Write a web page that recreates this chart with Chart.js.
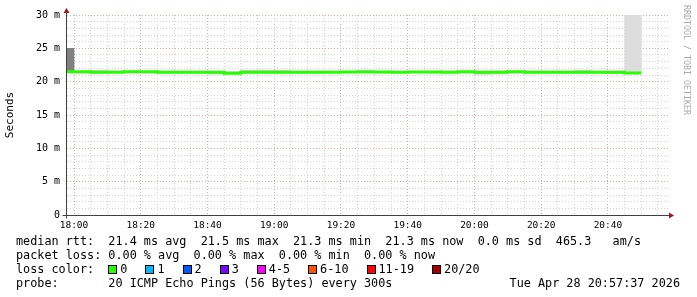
<!DOCTYPE html>
<html>
<head>
<meta charset="utf-8">
<script src="https://cdn.jsdelivr.net/npm/chart.js@4.4.1/dist/chart.umd.min.js"></script>
<style>
html, body { margin: 0; padding: 0; background: #fff; }
#wrap { position: relative; width: 697px; height: 297px; overflow: hidden; }
#wrap canvas { position: absolute; left: 0; top: 0; }
.leg { position: absolute; left: 16px; font: 11.8px "DejaVu Sans Mono", monospace; color: #000; white-space: pre; line-height: 14px; height: 14px; }
.item { display: inline-block; margin-right: 18px; }
.sq { display: inline-block; width: 9px; height: 9px; box-sizing: border-box; border: 1px solid #000; margin-right: 3px; vertical-align: -1px; }
#stamp { position: absolute; right: 17px; top: 276px; font: 11.8px "DejaVu Sans Mono", monospace; line-height: 14px; white-space: pre; }
#credit { position: absolute; left: 682px; top: 5px; writing-mode: vertical-rl; font: 8.3px "DejaVu Sans Mono", monospace; line-height: 10px; color: #aaa; white-space: pre; }
</style>
</head>
<body>
<div id="wrap">
  <canvas id="smoke" width="697" height="297"></canvas>
  <div class="leg" id="l1" style="top:234px"></div>
  <div class="leg" id="l2" style="top:248px"></div>
  <div class="leg" id="l3" style="top:262px"></div>
  <div class="leg" id="l4" style="top:276px"></div>
  <div id="stamp"></div>
  <div id="credit">RRDTOOL / TOBI OETIKER</div>
</div>
<script>
// minutes after 18:00 at which each 300s step ends
var stepEnd = [0, 5, 10, 15, 20, 25, 30, 35, 40, 45, 50, 55, 60, 65, 70, 75, 80, 85,
	90, 95, 100, 105, 110, 115, 120, 125, 130, 135, 140, 145, 150, 155, 160, 165, 170];
// median rtt in ms
var median = [21.5, 21.4, 21.4, 21.5, 21.5, 21.4, 21.4, 21.4, 21.4, 21.25, 21.4, 21.4,
	21.4, 21.4, 21.4, 21.4, 21.45, 21.45, 21.45, 21.4, 21.45, 21.45, 21.4, 21.5, 21.4,
	21.4, 21.5, 21.4, 21.4, 21.4, 21.4, 21.4, 21.4, 21.3, 21.3];
// smoke (spread of the 20 pings) in ms
var smokeLow = [21.5, 21.3, 21.3, 21.4, 21.4, 21.3, 21.3, 21.3, 21.3, 21.15, 21.3, 21.3,
	21.3, 21.3, 21.3, 21.3, 21.35, 21.35, 21.35, 21.3, 21.35, 21.35, 21.3, 21.4, 21.3,
	21.1, 21.2, 21.3, 21.3, 21.3, 21.3, 21.3, 21.3, 21.2, 21.3];
var smokeHigh = [25.0, 21.5, 21.7, 21.6, 21.6, 21.5, 21.5, 21.5, 21.5, 21.35, 21.5, 21.7,
	21.7, 21.7, 21.5, 21.5, 21.55, 21.55, 21.75, 21.5, 21.55, 21.55, 21.5, 21.6, 21.5,
	21.5, 21.6, 21.5, 21.5, 21.5, 21.5, 21.7, 21.5, 21.4, 30.0];
var yTicks = [0, 5, 10, 15, 20, 25, 30];
var xTicks = ['18:00', '18:20', '18:40', '19:00', '19:20', '19:40', '20:00', '20:20', '20:40'];

var lossLabels = ['0', '1', '2', '3', '4-5', '6-10', '11-19', '20/20'];
var lossColors = ['#26ff00', '#00b8ff', '#0059ff', '#7e00ff', '#ff00ff', '#ff5500', '#ff0000', '#a10000'];

var legendRtt = 'median rtt:  21.4 ms avg  21.5 ms max  21.3 ms min  21.3 ms now  0.0 ms sd  465.3   am/s';
var legendLoss = 'packet loss: 0.00 % avg  0.00 % max  0.00 % min  0.00 % now';
var legendProbe = 'probe:       20 ICMP Echo Pings (56 Bytes) every 300s';
var stampText = 'Tue Apr 28 20:57:37 2026';

// legend text
document.getElementById('l1').textContent = legendRtt;
document.getElementById('l2').textContent = legendLoss;
document.getElementById('l4').textContent = legendProbe;
document.getElementById('stamp').textContent = stampText;
var l3 = document.getElementById('l3');
l3.textContent = 'loss color:  ';
for (var i = 0; i < lossLabels.length; i++) {
	var item = document.createElement('span');
	item.className = 'item';
	var sq = document.createElement('span');
	sq.className = 'sq';
	sq.style.background = lossColors[i];
	item.appendChild(sq);
	item.appendChild(document.createTextNode(lossLabels[i]));
	l3.appendChild(item);
}

function hhmm(m) {
	var t = 18 * 60 + m;
	var h = Math.floor(t / 60), mm = t % 60;
	return h + ':' + (mm < 10 ? '0' : '') + mm;
}

var smokeData = [], smokeCol = [], lineData = [{ x: stepEnd[0] - 5, y: median[0] }];
for (var i = 0; i < stepEnd.length; i++) {
	smokeData.push({ x: stepEnd[i] - 2.5, y: [smokeLow[i], smokeHigh[i]] });
	smokeCol.push(i == 0 ? '#808080' : (i == stepEnd.length - 1 ? '#dddddd' : '#cccccc'));
	lineData.push({ x: stepEnd[i], y: median[i] });
}

var minorGrid = '#d4d4d4';
var majorGrid = '#e8a8a8';

var axisArrows = {
	id: 'axisArrows',
	afterDraw: function (chart) {
		var ctx = chart.ctx, a = chart.chartArea;
		var x0 = Math.round(a.left) - 0.5, y0 = Math.round(a.bottom) + 0.5;
		ctx.save();
		ctx.strokeStyle = '#404040';
		ctx.lineWidth = 1;
		ctx.beginPath();
		ctx.moveTo(x0, a.top - 3);
		ctx.lineTo(x0, y0 + 3);
		ctx.moveTo(x0 - 4, y0);
		ctx.lineTo(a.right + 1, y0);
		ctx.stroke();
		ctx.fillStyle = '#a01818';
		ctx.beginPath();
		ctx.moveTo(x0, a.top - 7);
		ctx.lineTo(x0 - 3, a.top - 2);
		ctx.lineTo(x0 + 3, a.top - 2);
		ctx.closePath();
		ctx.fill();
		ctx.beginPath();
		ctx.moveTo(a.right + 6, y0);
		ctx.lineTo(a.right + 1, y0 - 3);
		ctx.lineTo(a.right + 1, y0 + 3);
		ctx.closePath();
		ctx.fill();
		ctx.restore();
	}
};

var ctx = document.getElementById('smoke').getContext('2d');
var chart = new Chart(ctx, {
	data: {
		datasets: [{
			type: 'line',
			label: 'median',
			data: lineData,
			borderColor: lossColors[0],
			borderWidth: 3,
			pointRadius: 0,
			stepped: 'before',
			fill: false,
			order: 0
		}, {
			type: 'bar',
			label: 'smoke',
			data: smokeData,
			backgroundColor: smokeCol,
			borderWidth: 0,
			barPercentage: 1,
			categoryPercentage: 1,
			grouped: false,
			order: 1
		}]
	},
	options: {
		responsive: false,
		animation: false,
		devicePixelRatio: 1,
		layout: { padding: { top: 15, right: 29, left: 0, bottom: 0 } },
		plugins: { legend: { display: false }, tooltip: { enabled: false } },
		scales: {
			x: {
				type: 'linear',
				min: -2.1,
				max: 178,
				offset: false,
				afterFit: function (s) { s.height = 82; },
				border: { display: false, dash: [1, 2] },
				grid: {
					offset: false,
					drawTicks: false,
					color: function (c) { return c.tick && c.tick.value % 20 == 0 ? majorGrid : minorGrid; }
				},
				ticks: {
					stepSize: 5,
					includeBounds: false,
					autoSkip: false,
					maxRotation: 0,
					padding: 5,
					color: '#000',
					font: { family: 'DejaVu Sans Mono', size: 9.5 },
					callback: function (v) {
						var lab = hhmm(v);
						return xTicks.indexOf(lab) >= 0 ? lab : '';
					}
				}
			},
			y: {
				min: 0,
				max: 30,
				afterFit: function (s) { s.width = 67; },
				border: { display: false, dash: [1, 2] },
				grid: {
					drawTicks: false,
					color: function (c) { return c.tick && c.tick.value % 5 == 0 ? majorGrid : minorGrid; }
				},
				title: {
					display: true,
					text: 'Seconds',
					color: '#000',
					padding: 0,
					font: { family: 'DejaVu Sans Mono', size: 11, lineHeight: '20px' }
				},
				ticks: {
					stepSize: 1,
					autoSkip: false,
					padding: 7,
					color: '#000',
					font: { family: 'DejaVu Sans Mono', size: 10 },
					callback: function (v) {
						if (yTicks.indexOf(v) < 0) return '';
						return v == 0 ? '0' : v + ' m';
					}
				}
			}
		}
	},
	plugins: [axisArrows]
});
</script>
</body>
</html>
